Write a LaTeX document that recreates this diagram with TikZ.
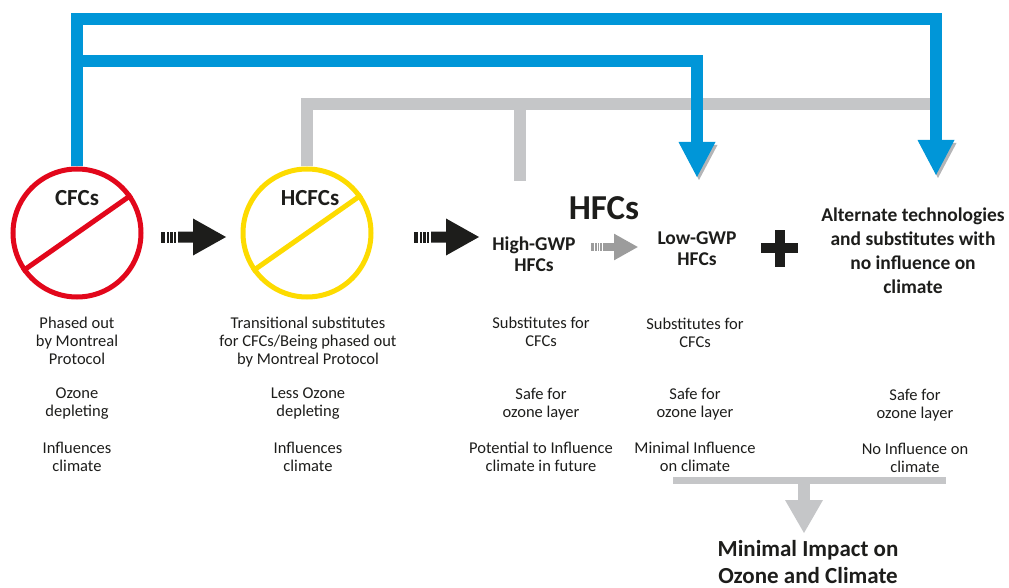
\documentclass[tikz,border=0pt]{standalone}
\usepackage{fontspec}
\setmainfont{Carlito}
\usetikzlibrary{arrows.meta}

\definecolor{banred}{HTML}{E2071B}
\definecolor{banyellow}{HTML}{FDDB00}
\definecolor{linkblue}{HTML}{0096D8}
\definecolor{linkgrey}{HTML}{C5C6C8}
\definecolor{headshade}{HTML}{B4B5B7}
\definecolor{stepgrey}{HTML}{9C9C9C}
\definecolor{ink}{HTML}{1D1D1B}

\tikzset{
  ban/.style={circle,draw=#1,line width=5pt,minimum size=128pt,inner sep=0pt},
  note/.style={font=\fontsize{16.5}{17.7}\selectfont,align=center,text=ink,anchor=north,inner sep=0pt},
  head/.style={font=\fontsize{19.5}{21}\selectfont\bfseries,align=center,text=ink,inner sep=0pt},
  bluelink/.style={draw=linkblue,line width=12pt,-{Triangle[width=37pt,length=35pt,line width=0pt]}},
  greylink/.style={draw=linkgrey,line width=12pt},
}

\begin{document}
\begin{tikzpicture}[x=1pt,y=-1pt]
\useasboundingbox (0,0) rectangle (1009,588);
\node[ban=banred] (cfc) at (77,233) {};
\node[ban=banyellow] (hcfc) at (307,233) {};
\draw[banred,line width=5pt] (cfc.215) -- (cfc.35);
\draw[banyellow,line width=5pt] (hcfc.215) -- (hcfc.35);
\node[head,font=\fontsize{23}{25}\selectfont\bfseries] (cfct) at (77,198) {CFCs};
\node[head,font=\fontsize{23}{25}\selectfont\bfseries] (hcfct) at (310,198) {HCFCs};
\node[head,font=\fontsize{35}{37}\selectfont\bfseries] (hfct) at (604,208) {HFCs};
\node[head] (high) at (534,254) {High-GWP\\HFCs};
\node[head] (low) at (697,249) {Low-GWP\\HFCs};
\node[head,font=\fontsize{19.5}{24}\selectfont\bfseries] (alt) at (913,251) {Alternate technologies\\and substitutes with\\no influence on\\climate};
\node[head,font=\fontsize{23}{27}\selectfont\bfseries] (goal) at (808,562) {Minimal Impact on\\Ozone and Climate};

% what each group does
\node[note] (c1a) at (77,317) {Phased out\\by Montreal\\Protocol};
\node[note] (c1b) at (77,388) {Ozone\\depleting};
\node[note] (c1c) at (77,442) {Influences\\climate};
\node[note] (c2a) at (308,317) {Transitional substitutes\\for CFCs/Being phased out\\by Montreal Protocol};
\node[note] (c2b) at (308,388) {Less Ozone\\depleting};
\node[note] (c2c) at (308,442) {Influences\\climate};
\node[note] (c3a) at (541,317) {Substitutes for\\CFCs};
\node[note] (c3b) at (541,388) {Safe for\\ozone layer};
\node[note] (c3c) at (541,442) {Potential to Influence\\climate in future};
\node[note] (c4a) at (695,318) {Substitutes for\\CFCs};
\node[note] (c4b) at (695,388) {Safe for\\ozone layer};
\node[note] (c4c) at (695,442) {Minimal Influence\\on climate};
\node[note] (c5b) at (915,389) {Safe for\\ozone layer};
\node[note] (c5c) at (915,443) {No Influence on\\climate};

% links over the top
\coordinate (ceil1) at (0,19);
\coordinate (ceil2) at (0,61);
\coordinate (highin) at (520,181);
\coordinate (greyend) at (936,104);
\coordinate (lowin) at (697,177);
\coordinate (altin) at (936,175);
\draw[greylink] (hcfc.north) |- (greyend);
\draw[greylink] (highin) -- (highin |- greyend);
\foreach \p in {lowin,altin}
  \fill[headshade] ([shift={(2,3)}]\p) -- ++(-18.5,-35) -- ++(37,0) -- cycle;
\draw[bluelink] (cfc.north) -- (cfc.north |- ceil1) -| (altin);
\draw[bluelink] (cfc.north) -- (cfc.north |- ceil2) -| (lowin);

% steps between the groups
\foreach \x/\y/\s/\c in {161/237/1/ink,414/237/1/ink,591/247/0.72/stepgrey}{
  \begin{scope}[shift={(\x,\y)},scale=\s]
    \fill[\c] (17,-5.5) -- (32,-5.5) -- (32,-18.5) -- (65,0) -- (32,18.5) -- (32,5.5) -- (17,5.5) -- cycle;
    \foreach \a/\b in {0/4,5.7/8,9.3/11.7,13/15.3}
      \fill[\c] (\a,-5.5) rectangle (\b,5.5);
  \end{scope}}
\fill[ink] (761,243) rectangle (798,253);
\fill[ink] (774.5,229.5) rectangle (784.5,266.5);

% bracket to the outcome
\coordinate (brL) at (673,480);
\coordinate (brR) at (946,480);
\coordinate (brM) at (804,480);
\coordinate (goalin) at (804,533);
\draw[greylink,line width=7pt] (brL) -- (brR);
\draw[greylink,-{Triangle[width=38pt,length=33pt,line width=0pt]}] (brM) -- (goalin);
\end{tikzpicture}
\end{document}
